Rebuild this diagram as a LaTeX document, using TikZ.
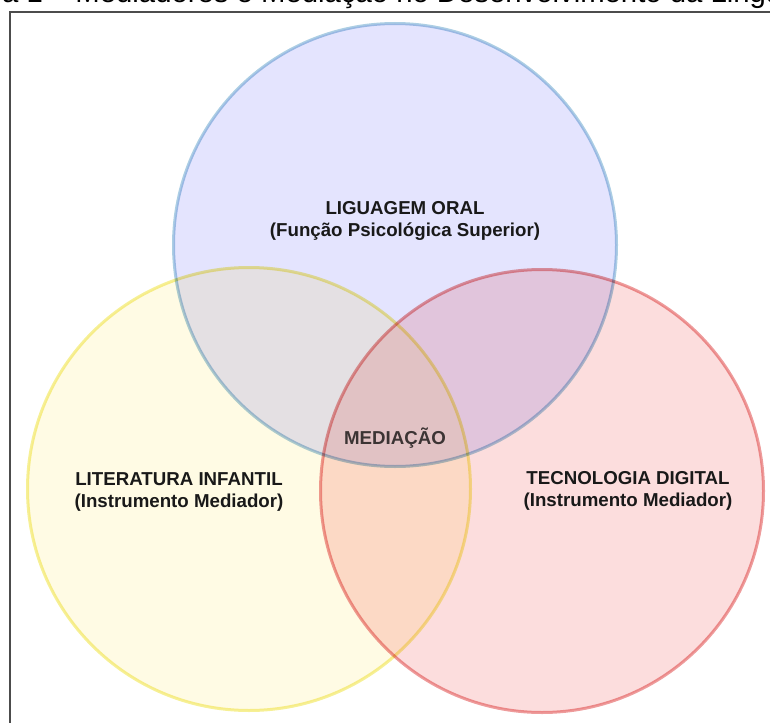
\documentclass[tikz,border=0pt]{standalone}
\usepackage{fontspec}
\setmainfont{Liberation Sans}
\usepackage{xcolor}
\usepackage{tikz}
\usetikzlibrary{shapes.geometric}

\definecolor{oralfill}{RGB}{228,228,254}
\definecolor{oralline}{RGB}{172,206,228}
\definecolor{litfill}{RGB}{255,251,228}
\definecolor{litline}{RGB}{246,240,150}
\definecolor{tecfill}{RGB}{252,221,221}
\definecolor{tecline}{RGB}{238,156,156}
\definecolor{medtext}{RGB}{60,52,52}

\begin{document}
\begin{tikzpicture}[
    x=1pt, y=-1pt,
    every node/.style={inner sep=0pt},
    venn/.style={circle, minimum size=443pt, line width=3pt},
    label/.style={align=center, font=\bfseries\fontsize{18.7}{22}\selectfont, text=black!90},
]

\useasboundingbox (0,0) rectangle (770,722);
\clip (0,0) rectangle (770,722);

% === Caption and frame ===
\node[anchor=base west, font=\fontsize{29.3}{34}\selectfont] (caption) at (2,3)
    {a 1 – Mediadores e Mediação no Desenvolvimento da Lingu};
\draw[line width=1.5pt, black!70] (10,12) rectangle (790,740);

% === Three circles ===
\begin{scope}[blend group=multiply]
\node[venn, draw=oralline, fill=oralfill] (oral) at (395,245) {};
\node[venn, draw=litline, fill=litfill] (lit) at (249,489) {};
\node[venn, draw=tecline, fill=tecfill] (tec) at (542,491) {};
\end{scope}

% === Labels ===
\node[label] (loral) at (405,221) {LIGUAGEM ORAL\\(Função Psicológica Superior)};
\node[label] (llit) at (179,492) {LITERATURA INFANTIL\\(Instrumento Mediador)};
\node[label] (ltec) at (628,491) {TECNOLOGIA DIGITAL\\(Instrumento Mediador)};
\node[label, anchor=base, text=medtext] (med) at (395,444) {MEDIAÇÃO};

\end{tikzpicture}
\end{document}
